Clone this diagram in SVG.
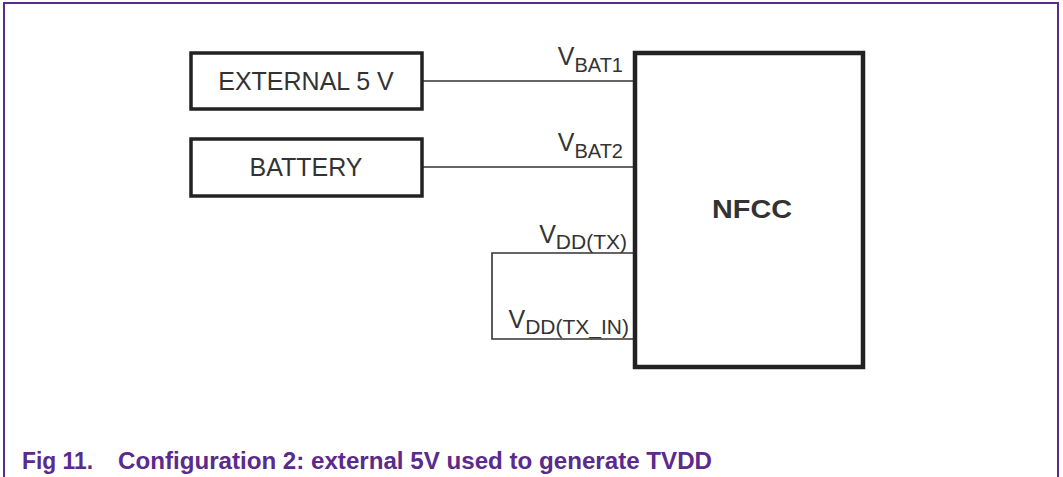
<svg xmlns="http://www.w3.org/2000/svg" width="1063" height="477" viewBox="0 0 1063 477">
<style>
.box{fill:#fff;stroke:#222;stroke-width:3.5}
.nfcc{fill:#fff;stroke:#222;stroke-width:4.5}
.wire{fill:none;stroke:#333;stroke-width:1.6}
.t{font-family:"Liberation Sans",Arial,sans-serif;fill:#333}
.lbl{font-family:"Liberation Sans",Arial,sans-serif;fill:#333;font-size:25px}
.sub{font-size:20px}
.sub2{font-size:21px}
.cap{font-family:"Liberation Sans",Arial,sans-serif;font-weight:bold;fill:#5a2a8c;font-size:23px}
</style>
<rect x="0" y="0" width="1063" height="477" fill="#fff"/>
<path d="M4 477 V3 H1058 V477" fill="none" stroke="#5a2a8c" stroke-width="2"/>
<g id="connectors">
<line class="wire" x1="422" y1="81" x2="634" y2="81"/>
<line class="wire" x1="422" y1="167" x2="634" y2="167"/>
<polyline class="wire" points="634,253 492,253 492,339 634,339"/>
</g>
<g id="ext5v">
<rect class="box" x="191" y="53" width="231" height="56"/>
<text class="t" x="306" y="90" font-size="25" text-anchor="middle">EXTERNAL 5 V</text>
</g>
<g id="battery">
<rect class="box" x="191" y="139" width="231" height="57"/>
<text class="t" x="306" y="176" font-size="25" text-anchor="middle">BATTERY</text>
</g>
<g id="nfcc">
<rect class="nfcc" x="635" y="53" width="228" height="314"/>
<text class="t" x="752" y="218" font-size="26" font-weight="bold" fill="#111" text-anchor="middle" textLength="80" lengthAdjust="spacingAndGlyphs">NFCC</text>
<text class="lbl" x="623" y="65" text-anchor="end">V<tspan class="sub" dy="7">BAT1</tspan></text>
<text class="lbl" x="623" y="151" text-anchor="end">V<tspan class="sub" dy="7">BAT2</tspan></text>
<text class="lbl" x="627" y="243" text-anchor="end">V<tspan class="sub2" dy="6">DD(TX)</tspan></text>
<text class="lbl" x="629" y="328" text-anchor="end">V<tspan class="sub2" dy="6">DD(TX_IN)</tspan></text>
</g>
<text class="cap" x="22" y="469" textLength="71" lengthAdjust="spacingAndGlyphs">Fig 11.</text>
<text class="cap" x="118" y="469" textLength="594" lengthAdjust="spacingAndGlyphs">Configuration 2: external 5V used to generate TVDD</text>
</svg>
